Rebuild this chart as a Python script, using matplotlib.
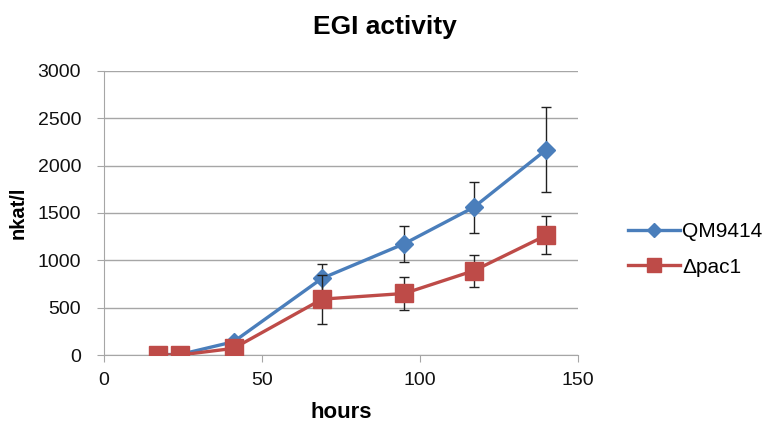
import matplotlib.pyplot as plt
from matplotlib.lines import Line2D

plt.rcParams['font.family'] = ['Liberation Sans', 'DejaVu Sans']

hours = [17, 24, 41, 69, 95, 117, 140]
qm9414 = [5, 5, 140, 810, 1175, 1560, 2170]
qm9414_err = [10, 10, 30, 150, 190, 270, 445]
pac1 = [0, 0, 70, 590, 650, 890, 1265]
pac1_err = [5, 5, 20, 260, 175, 170, 200]

blue = '#4A7EBB'
red = '#BE4B48'

fig = plt.figure(figsize=(7.74, 4.25), dpi=100)
ax = fig.add_axes([0.1344, 0.1647, 0.6124, 0.6683])

ax.errorbar(hours, qm9414, yerr=qm9414_err, color=blue, lw=2.4, marker='D', ms=9,
            ecolor='#222222', elinewidth=1, capsize=3.5, capthick=1, zorder=3)
ax.errorbar(hours, pac1, yerr=pac1_err, color=red, lw=2.4, marker='s', ms=13.5,
            ecolor='#222222', elinewidth=1, capsize=3.5, capthick=1, zorder=4)

ax.set_xlim(0, 150)
ax.set_ylim(0, 3000)
ax.set_xticks([0, 50, 100, 150])
ax.set_yticks(range(0, 3001, 500))
ax.grid(axis='y', color='#a6a6a6', lw=1)
ax.set_axisbelow(True)
for s in ['top', 'right']:
    ax.spines[s].set_visible(False)
for s in ['left', 'bottom']:
    ax.spines[s].set_color('#a6a6a6')
ax.tick_params(colors='#a6a6a6', labelcolor='#111111', labelsize=14, length=5)
ax.tick_params(axis='y', pad=11.5)
ax.tick_params(axis='x', pad=7)

fig.text(0.497, 0.936, 'EGI activity', fontsize=19, fontweight='bold', ha='center', va='center')
ax.set_xlabel('hours', fontsize=16, fontweight='bold', va='top')
ax.set_ylabel('nkat/l', fontsize=14.5, fontweight='bold')
ax.xaxis.set_label_coords(0.5, -0.165)
ax.yaxis.set_label_coords(-0.162, 0.5)

handles = [Line2D([], [], color=blue, lw=2.4, marker='D', ms=7),
           Line2D([], [], color=red, lw=2.4, marker='s', ms=10)]
ax.legend(handles, ['QM9414', 'Δpac1'], loc='upper left', bbox_to_anchor=(628 / 774, 1 - 222 / 425),
          bbox_transform=fig.transFigure, frameon=False, fontsize=15, borderpad=0,
          borderaxespad=0, handlelength=2.5, handletextpad=0.1, labelspacing=0.8)

fig.savefig('out.png', dpi=100)
